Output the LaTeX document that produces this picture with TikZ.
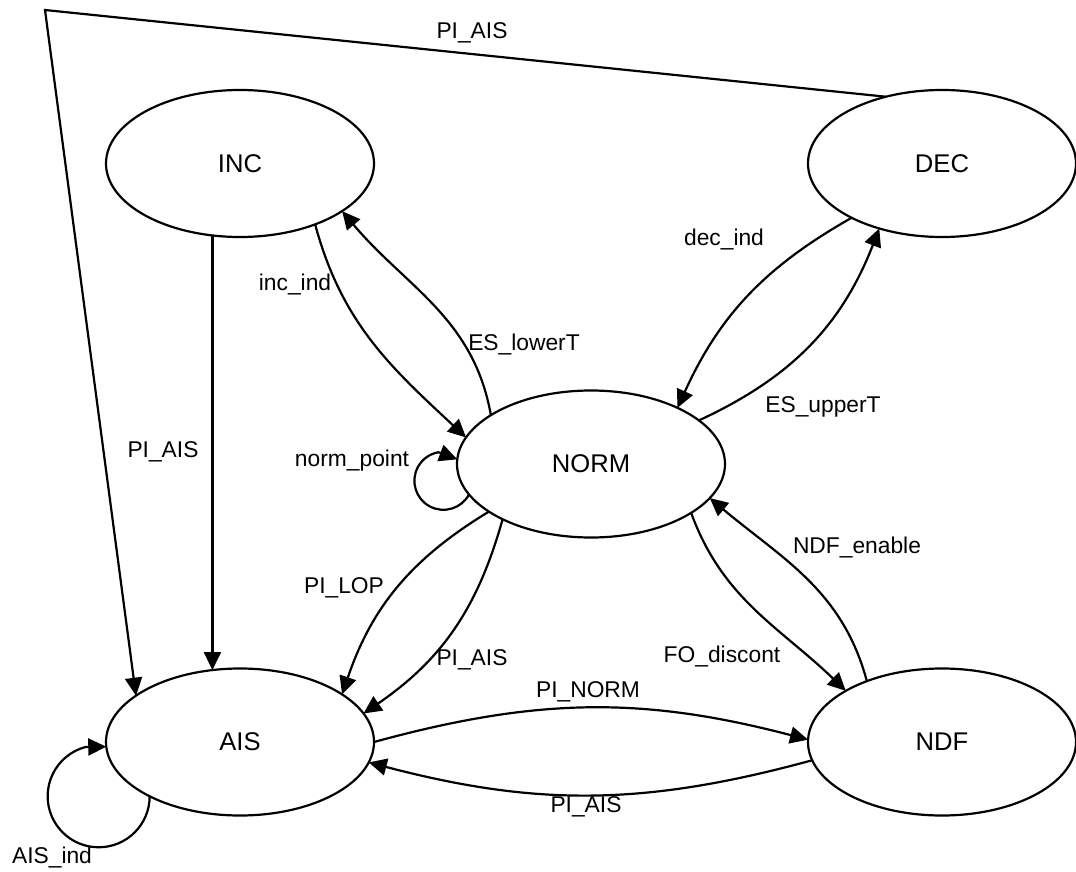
\documentclass[tikz,border=0pt]{standalone}
\usepackage{fontspec}
\setmainfont{Liberation Sans}
\usetikzlibrary{arrows.meta,shapes.geometric}
\begin{document}
\begin{tikzpicture}[x=0.5pt,y=0.5pt,
  state/.style={ellipse, draw, line width=1.1pt, minimum width=134pt,
    minimum height=73.5pt, inner sep=0pt, outer sep=0pt,
    font=\fontsize{12.8pt}{15pt}\selectfont},
  lbl/.style={inner sep=0pt, font=\fontsize{11.4pt}{13pt}\selectfont},
  arr/.style={line width=1.1pt, -{Triangle[length=9pt,width=8.5pt]}}]
\useasboundingbox (0,0) rectangle (1076,-872);

% states
\node[state] (INC)  at (240,-163.5) {INC};
\node[state] (DEC)  at (942,-163.5) {DEC};
\node[state] (NORM) at (591,-464)   {NORM};
\node[state] (AIS)  at (240,-742)   {AIS};
\node[state] (NDF)  at (942,-742)   {NDF};

% long return path from DEC round the top-left corner
\coordinate (corner) at (45,-10);
\draw[arr] (DEC.130) -- (corner) -- (AIS.156);
\node[lbl] (lTop) at (472,-33) {PI\_AIS};

% INC -> AIS
\draw[arr] (INC.249) -- (AIS.111);
\node[lbl] (lIncAis) at (163,-452) {PI\_AIS};

% INC <-> NORM
\draw[arr] (INC.321) to[out=-75,in=137] (NORM.168);
\node[lbl] (lIncInd) at (295,-285) {inc\_ind};
\draw[arr] (NORM.154) to[out=100,in=-50] (INC.335);
\node[lbl] (lLower) at (524,-345) {ES\_lowerT};

% DEC <-> NORM
\draw[arr] (DEC.211) to[bend right=18] (NORM.33);
\node[lbl] (lDecInd) at (724,-240) {dec\_ind};
\draw[arr] (NORM.22) to[bend right=22] (DEC.226);
\node[lbl] (lUpper) at (823,-407) {ES\_upperT};

% NORM self loop
\coordinate (normLoopEnd) at (438.5,-452.2);
\draw[arr] (NORM.194) arc[start angle=-28, end angle=-260, radius=29] -- (NORM.178);
\node[lbl] (lNormPt) at (352,-461) {norm\_point};

% NORM -> AIS
\draw[arr] (NORM.205) to[bend right=20] (AIS.25);
\node[lbl] (lLop) at (344,-588) {PI\_LOP};
\draw[arr] (NORM.212) to[bend left=20] (AIS.13);
\node[lbl] (lNormAis) at (472,-660) {PI\_AIS};

% NORM <-> NDF
\draw[arr] (NDF.141) to[out=105,in=-40] (NORM.344);
\node[lbl] (lEnable) at (857,-548) {NDF\_enable};
\draw[arr] (NORM.334) to[out=-70,in=136] (NDF.152);
\node[lbl] (lDiscont) at (722,-656) {FO\_discont};

% AIS <-> NDF
\draw[arr] (AIS.east) to[bend left=15] (NDF.179);
\node[lbl] (lNorm) at (588,-692) {PI\_NORM};
\draw[arr] (NDF.188) to[bend left=15] (AIS.351);
\node[lbl] (lNdfAis) at (586,-807) {PI\_AIS};

% AIS self loop
\draw[arr] (AIS.211) arc[start angle=0, end angle=-255, radius=51] -- (AIS.182);
\node[lbl] (lAisInd) at (52,-857) {AIS\_ind};
\end{tikzpicture}
\end{document}
